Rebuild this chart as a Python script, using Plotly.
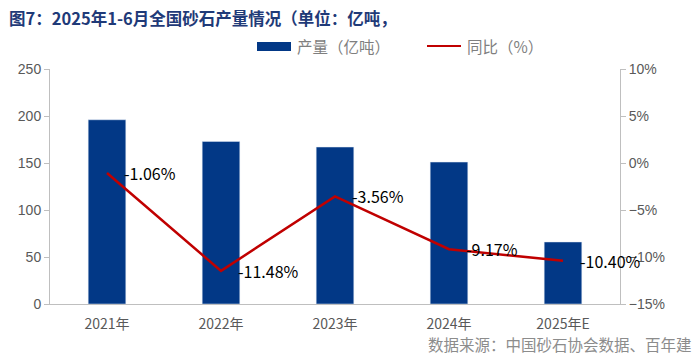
import plotly.graph_objects as go

categories = ["2021年", "2022年", "2023年", "2024年", "2025年E"]
output = [196, 173, 167, 151, 66]
yoy = [-1.06, -11.48, -3.56, -9.17, -10.40]
yoy_labels = ["-1.06%", "-11.48%", "-3.56%", "-9.17%", "-10.40%"]

BLUE = "#023886"
RED = "#C00000"
GREY = "#595959"
AX = "#BFBFBF"
FONT = "Noto Sans CJK SC"
PW, PH, L, T = 570, 235, 50, 69


def px(x):
    return (x - L) / PW


def py(y):
    return 1 + (T - y) / PH


fig = go.Figure()
fig.add_trace(go.Bar(x=categories, y=output, marker_color=BLUE, width=0.33,
                     name="产量（亿吨）", showlegend=False))
fig.add_trace(go.Scatter(x=categories, y=yoy, yaxis="y2", mode="lines",
                         line=dict(color=RED, width=2.5), name="同比（%）", showlegend=False))

for c, v, t in zip(categories, yoy, yoy_labels):
    fig.add_annotation(x=c, y=v, yref="y2", text=t, showarrow=False,
                       xanchor="left", yanchor="middle", xshift=15,
                       font=dict(family=FONT, size=16, color="#000000"))

# title
fig.add_annotation(xref="paper", yref="paper", x=px(7), y=py(18),
                   text="<b>图7：2025年1-6月全国砂石产量情况（单位：亿吨，</b>",
                   showarrow=False, xanchor="left", yanchor="middle",
                   font=dict(family=FONT, size=16.5, color="#1F3A78"))
# custom legend
fig.add_shape(type="rect", xref="paper", yref="paper", x0=px(257), x1=px(291),
              y0=py(51), y1=py(42), fillcolor=BLUE, line_width=0)
fig.add_annotation(xref="paper", yref="paper", x=px(295), y=py(46),
                   text="产量（亿吨）", showarrow=False, xanchor="left", yanchor="middle",
                   font=dict(family=FONT, size=15.5, color="#7F7F7F"))
fig.add_shape(type="line", xref="paper", yref="paper", x0=px(427), x1=px(461),
              y0=py(46), y1=py(46), line=dict(color=RED, width=2))
fig.add_annotation(xref="paper", yref="paper", x=px(465), y=py(46),
                   text="同比（%）", showarrow=False, xanchor="left", yanchor="middle",
                   font=dict(family=FONT, size=15.5, color="#7F7F7F"))
# source
fig.add_annotation(xref="paper", yref="paper", x=px(426), y=py(344),
                   text="数据来源：中国砂石协会数据、百年建", showarrow=False,
                   xanchor="left", yanchor="middle",
                   font=dict(family=FONT, size=15.5, color="#8C8C8C"))

fig.update_layout(
    width=692, height=355,
    margin=dict(l=50, r=72, t=69, b=51, autoexpand=False),
    paper_bgcolor="white", plot_bgcolor="white",
    font=dict(family=FONT, size=13, color=GREY),
    xaxis=dict(range=[-0.5, 4.5], autorange=False, showline=True, linecolor=AX,
               linewidth=1, ticks="", showgrid=False, ticklabelstandoff=7,
               tickfont=dict(family="Liberation Sans Narrow, " + FONT, size=14, color=GREY)),
    yaxis=dict(range=[0, 250], autorange=False, dtick=50, showgrid=False, showline=True,
               linecolor=AX, ticks="outside", ticklen=5, tickcolor=AX, zeroline=False,
               tickfont=dict(family="Liberation Sans, " + FONT, size=14, color=GREY)),
    yaxis2=dict(range=[-15, 10], autorange=False, dtick=5, overlaying="y", side="right",
                showgrid=False, showline=True, linecolor=AX, ticks="outside", ticklen=5,
                tickcolor=AX, ticksuffix="%", zeroline=False,
                tickfont=dict(family="Liberation Sans, " + FONT, size=14, color=GREY)),
    showlegend=False,
)
fig.write_html("out.html", config={"displayModeBar": False},
               post_script="document.body.style.margin='0';document.body.style.overflow='hidden';")
